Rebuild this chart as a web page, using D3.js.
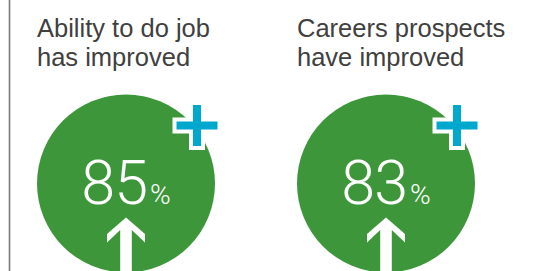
<!DOCTYPE html>
<html><head><meta charset="utf-8">
<script src="https://cdn.jsdelivr.net/npm/d3@7"></script>
<style>
html,body{margin:0;padding:0;background:#fff;}
svg{display:block;}
</style></head>
<body>
<div id="chart"></div>
<script>
const categories = ["ability", "careers"];
const titleLines = [["Ability to do job", "has improved"], ["Careers prospects", "have improved"]];
const values = [85, 83];

const W = 550, H = 271;
const svg = d3.select("#chart").append("svg").attr("width", W).attr("height", H);

const x = d3.scaleBand().domain(categories).range([-4, 516]);
const R = 89, CY = 183.5;
const cx = c => x(c) + x.bandwidth() / 2;

// left rule
svg.append("line").attr("x1", 9.5).attr("x2", 9.5).attr("y1", 0).attr("y2", H)
  .attr("stroke", "#7a7a7a").attr("stroke-width", 1.6);

const g = svg.selectAll("g.item").data(categories).enter().append("g")
  .attr("class", "item").attr("transform", d => `translate(${cx(d)},0)`);

// titles
g.append("text").attr("x", -R).attr("y", 36.5)
  .attr("font-family", "'Liberation Sans', Arial, Helvetica, sans-serif")
  .attr("font-size", 25.5).attr("fill", "#404040")
  .selectAll("tspan").data((d, i) => titleLines[i]).enter().append("tspan")
  .attr("x", -R).attr("dy", (d, i) => i ? 29.5 : 0).text(d => d);

// circle
g.append("circle").attr("cx", 0).attr("cy", CY).attr("r", R).attr("fill", "#3e963b");

// plus sign
const arm = 20.5, th = 4;
const plusPath = `M${-arm},${-th} H${-th} V${-arm} H${th} V${-th} H${arm} V${th} H${th} V${arm} H${-th} V${th} H${-arm} Z`;
g.append("path").attr("d", plusPath)
  .attr("transform", `translate(71,${CY - 58})`)
  .attr("fill", "#00a8cd").attr("stroke", "#fff").attr("stroke-width", 8)
  .attr("stroke-linejoin", "miter").style("paint-order", "stroke");

// value text
const t = g.append("text").attr("x", 0).attr("y", CY + 20).attr("text-anchor", "middle")
  .attr("fill", "#fff").attr("font-family", "Roboto, 'Liberation Sans', sans-serif").attr("font-weight", 300);
t.append("tspan").attr("font-size", 61).attr("letter-spacing", -1).text((d, i) => values[i]);
t.append("tspan").attr("font-size", 28).attr("dx", 3).text("%");

// arrow
const arrowPath = "M0,34 L19,50.5 L19,59 L5.8,46.5 L5.8,100 L-5.8,100 L-5.8,46.5 L-19,59 L-19,50.5 Z";
g.append("path").attr("d", arrowPath).attr("transform", `translate(0,${CY})`).attr("fill", "#fff");
</script>
</body></html>
